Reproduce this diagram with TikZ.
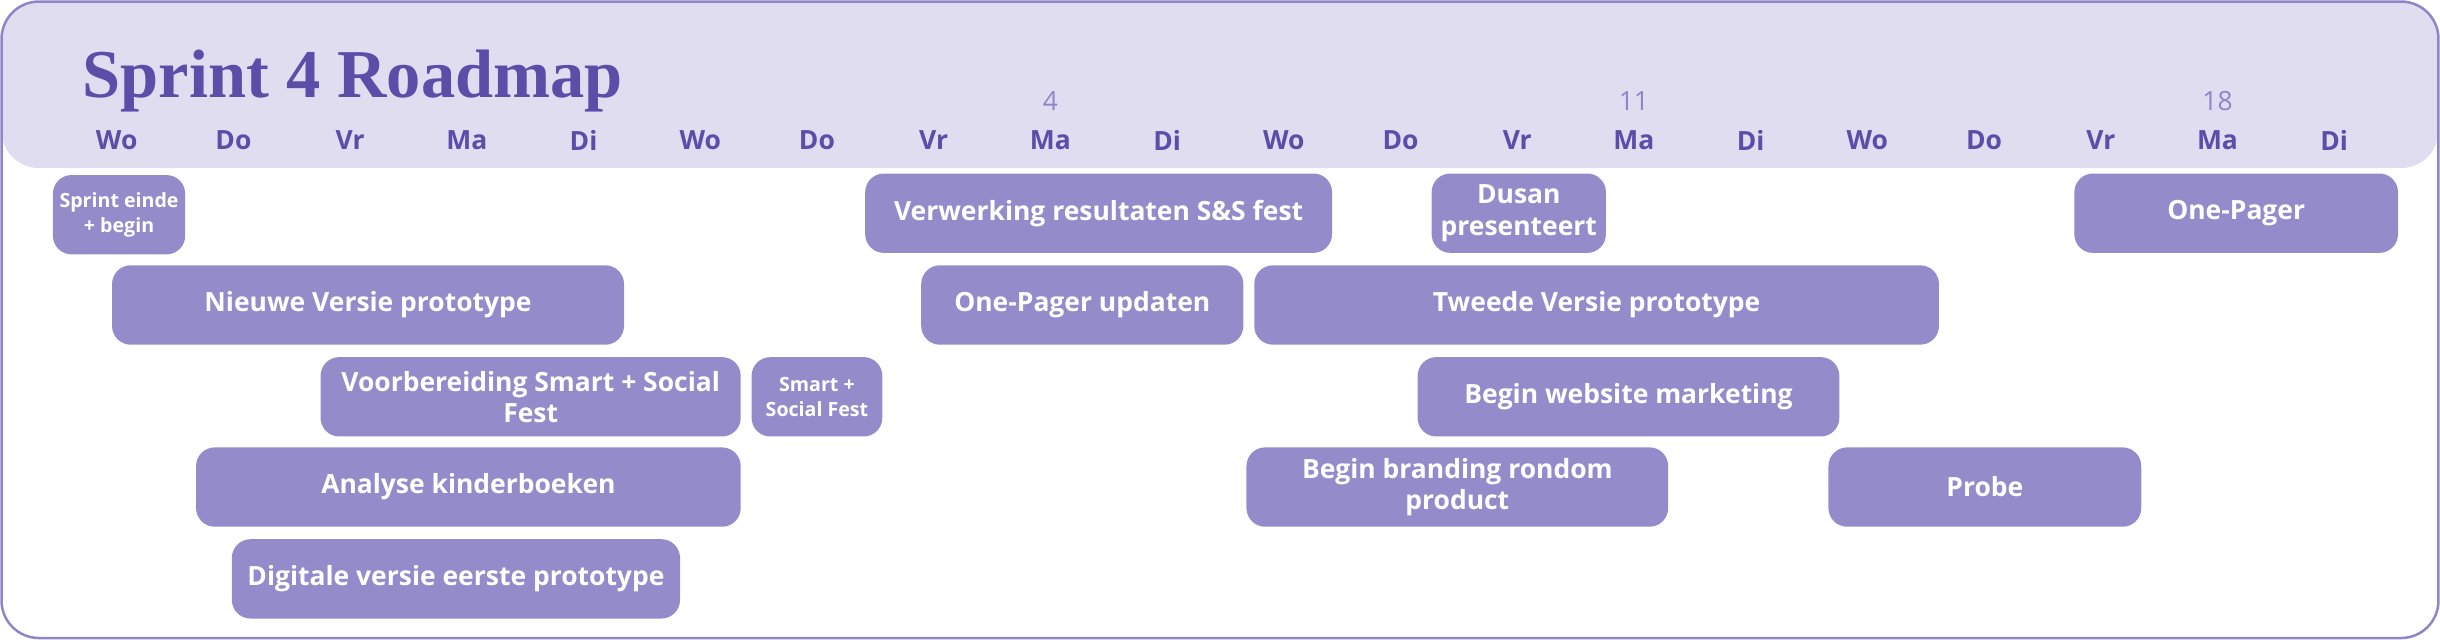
\documentclass[tikz,border=0pt]{standalone}
\usepackage{fontspec}
\setmainfont{Open Sans}
\newfontfamily\titlefont{Liberation Serif}
\definecolor{kop}{HTML}{E0DDF0}
\definecolor{balk}{HTML}{948BCB}
\definecolor{paars}{HTML}{5B4DA8}
\definecolor{rand}{HTML}{8F85C8}
\tikzset{
  dag/.style={font=\bfseries\fontsize{8.5}{10}\selectfont,text=paars},
  datum/.style={font=\fontsize{8.5}{10}\selectfont,text=rand},
  taak/.style={fill=balk,rounded corners=6pt,text=white,align=center,inner sep=0pt,
    font=\bfseries\fontsize{8.5}{10}\selectfont,minimum height=25.5pt},
  klein/.style={font=\bfseries\fontsize{6.3}{8}\selectfont}
}
\begin{document}
\begin{tikzpicture}[x=.5pt,y=-.5pt]
\useasboundingbox (0,0) rectangle (1568,411);
\fill[kop,rounded corners=12pt] (1,1) rectangle (1567,108);
\draw[rand,line width=.8pt,rounded corners=12pt] (1,1) rectangle (1567,410);
\node[anchor=west,text=paars,font=\titlefont\bfseries\fontsize{22}{24}\selectfont] (titel) at (46,52) {Sprint 4 Roadmap};
%
% dagen
\foreach \d [count=\i from 0] in {Wo,Do,Vr,Ma,Di,Wo,Do,Vr,Ma,Di,Wo,Do,Vr,Ma,Di,Wo,Do,Vr,Ma,Di}
\node[dag] (dag\i) at (75+75*\i,90) {\d};
\foreach \n/\x in {4/675,11/1050,18/1425}
\node[datum] (datum\n) at (\x,65) {\n};
%
% taken
\foreach \naam/\xa/\xb/\y/\tekst in {
  nieuw/72/401/196/Nieuwe Versie prototype,
  voorb/206/476/255/Voorbereiding Smart + Social\\Fest,
  analyse/126/476/313/Analyse kinderboeken,
  digi/149/437/372/Digitale versie eerste prototype,
  verwerk/556/856/137/Verwerking resultaten S\&S fest,
  update/592/799/196/One-Pager updaten,
  dusan/920/1032/137/Dusan\\presenteert,
  tweede/806/1246/196/Tweede Versie prototype,
  website/911/1182/255/Begin website marketing,
  branding/801/1072/313/Begin branding rondom\\product,
  probe/1175/1376/313/Probe/test met\\doelgroep,
  pager/1333/1541/137/One-Pager}
\node[taak,minimum width=(\xb-\xa)*.5pt] (\naam) at ({(\xa+\xb)/2},\y) {\tekst};
\node[taak,klein,minimum width=42.5pt] (sprint) at (76.5,138) {Sprint einde\\+ begin};
\node[taak,klein,minimum width=42pt] (fest) at (525,255) {Smart +\\Social Fest};
\end{tikzpicture}
\end{document}
